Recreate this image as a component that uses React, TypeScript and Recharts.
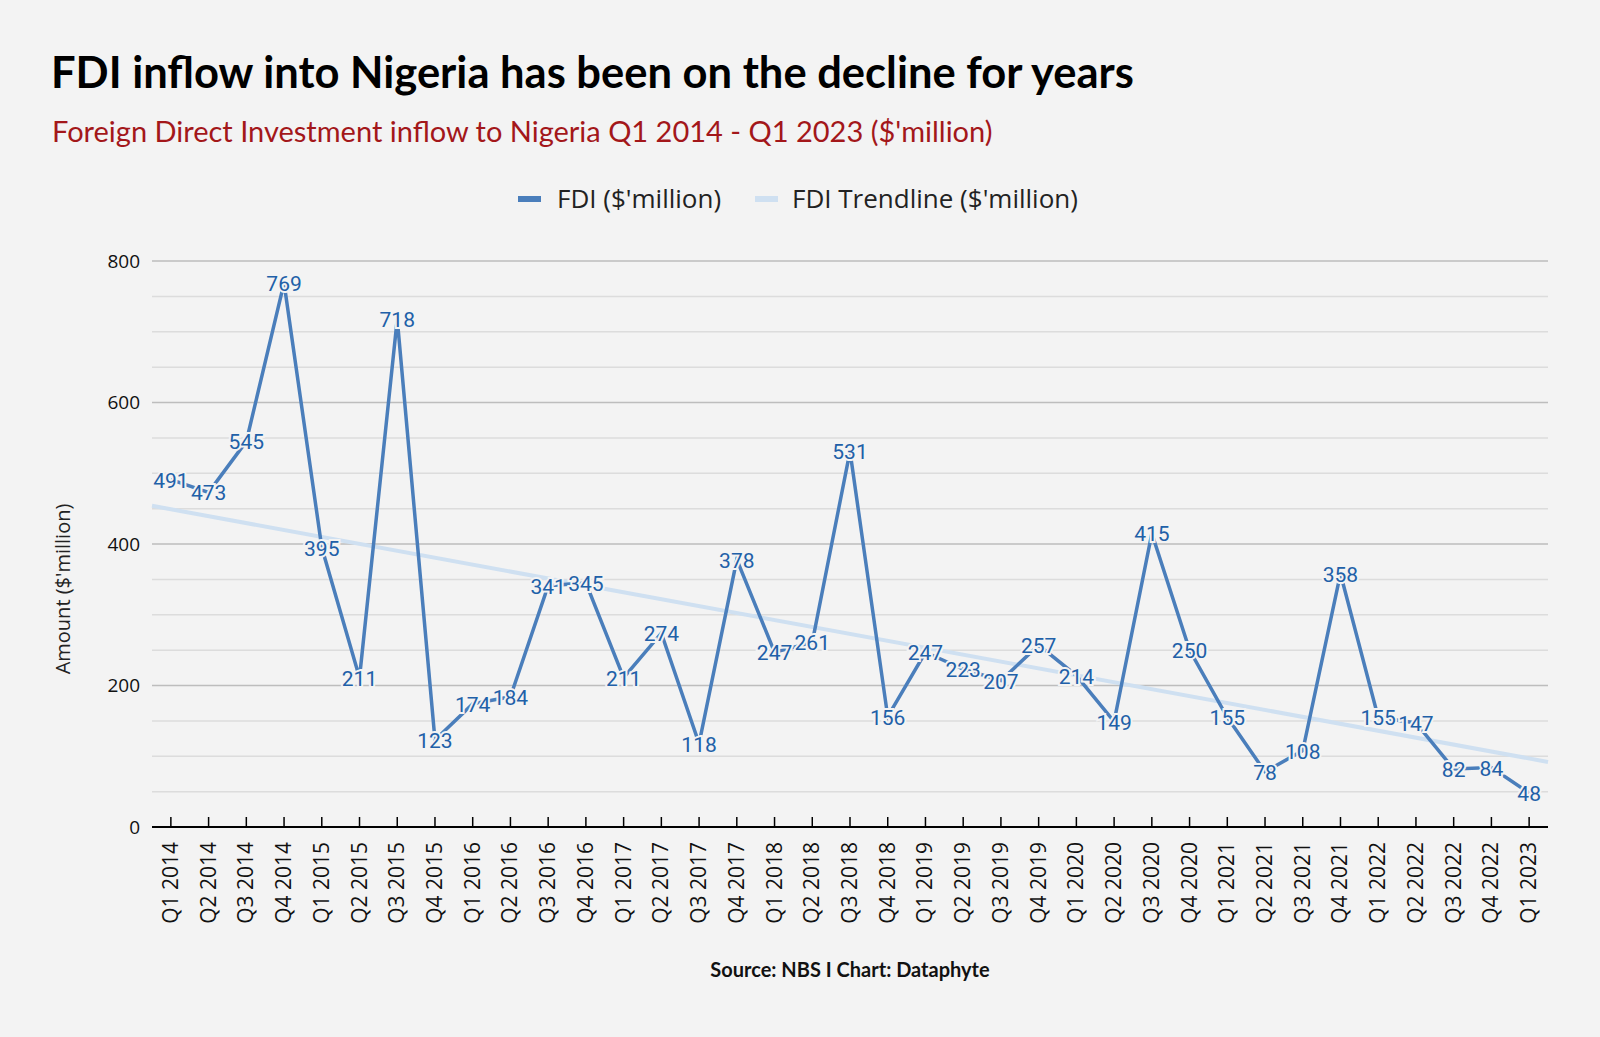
import React from 'react';
import { LineChart, Line, XAxis, YAxis, CartesianGrid } from 'recharts';

const quarters = [
  'Q1 2014', 'Q2 2014', 'Q3 2014', 'Q4 2014',
  'Q1 2015', 'Q2 2015', 'Q3 2015', 'Q4 2015',
  'Q1 2016', 'Q2 2016', 'Q3 2016', 'Q4 2016',
  'Q1 2017', 'Q2 2017', 'Q3 2017', 'Q4 2017',
  'Q1 2018', 'Q2 2018', 'Q3 2018', 'Q4 2018',
  'Q1 2019', 'Q2 2019', 'Q3 2019', 'Q4 2019',
  'Q1 2020', 'Q2 2020', 'Q3 2020', 'Q4 2020',
  'Q1 2021', 'Q2 2021', 'Q3 2021', 'Q4 2021',
  'Q1 2022', 'Q2 2022', 'Q3 2022', 'Q4 2022',
  'Q1 2023',
];

const fdiValues = [
  491, 473, 545, 769,
  395, 211, 718, 123,
  174, 184, 341, 345,
  211, 274, 118, 378,
  247, 261, 531, 156,
  247, 223, 207, 257,
  214, 149, 415, 250,
  155, 78, 108, 358,
  155, 147, 82, 84,
  48,
];

// trendline at the left and right edge of the plot
const trendStart = 454;
const trendEnd = 92;

const yTicks = [0, 50, 100, 150, 200, 250, 300, 350, 400, 450, 500, 550, 600, 650, 700, 750, 800];
const yLabelTicks = [0, 200, 400, 600, 800];

const data = quarters.map((q, i) => ({ i, q, fdi: fdiValues[i] }));
const trendData = [
  { i: -0.5, trend: trendStart },
  { i: quarters.length - 0.5, trend: trendEnd },
];
const xTicks = quarters.map((_, i) => i);

const BG = '#f3f3f3';
const LINE = '#4a7ebb';
const TREND = '#cfe0f1';

const XTick = (props: any) => {
  const { x, y, payload } = props;
  return (
    <g>
      <line x1={x} x2={x} y1={y - 10} y2={y} stroke="#000" strokeWidth={1.5} />
      <text
        transform={`translate(${x + 7},${y + 15}) rotate(-90)`}
        textAnchor="end"
        fontFamily="'Open Sans', sans-serif"
        fontSize={21}
        fill="#111"
      >
        {quarters[payload.value]}
      </text>
    </g>
  );
};

const GridLine = (props: any) => {
  const { x1, x2, y1, y2, index } = props;
  const major = index % 4 === 0;
  return (
    <line
      x1={x1}
      x2={x2}
      y1={y1}
      y2={y2}
      stroke={major ? '#bdbdbd' : '#dcdcdc'}
      strokeWidth={1.5}
    />
  );
};

const PointLabel = (props: any) => {
  const { x, y, value } = props;
  return (
    <text
      x={x}
      y={y}
      dy={8}
      textAnchor="middle"
      fontFamily="Roboto, sans-serif"
      fontSize={21}
      fill="#2160a8"
      stroke={BG}
      strokeWidth={4}
      paintOrder="stroke"
    >
      {value}
    </text>
  );
};

export default function App() {
  return (
    <div style={{ position: 'absolute', left: 0, top: 0, width: 1600, height: 1037, background: BG }}>
      <LineChart
        width={1600}
        height={1037}
        data={data}
        margin={{ top: 261, right: 52, bottom: 110, left: 102 }}
      >
        <CartesianGrid vertical={false} horizontal={GridLine} />
        <XAxis
          dataKey="i"
          type="number"
          domain={[-0.5, quarters.length - 0.5]}
          ticks={xTicks}
          interval={0}
          height={100}
          tickSize={0}
          tickMargin={0}
          tickLine={false}
          axisLine={{ stroke: '#000', strokeWidth: 2 }}
          tick={XTick}
        />
        <YAxis
          domain={[0, 800]}
          ticks={yTicks}
          interval={0}
          width={50}
          tickSize={0}
          tickMargin={12}
          tickLine={false}
          axisLine={false}
          tickFormatter={(v: number) => (yLabelTicks.includes(v) ? String(v) : '')}
          tick={{ fontFamily: "'Open Sans', sans-serif", fontSize: 19, fill: '#111' }}
        />
        <Line
          data={trendData}
          dataKey="trend"
          type="linear"
          stroke={TREND}
          strokeWidth={4}
          dot={false}
          isAnimationActive={false}
        />
        <Line
          dataKey="fdi"
          type="linear"
          stroke={LINE}
          strokeWidth={3.5}
          dot={false}
          label={PointLabel}
          isAnimationActive={false}
        />
      </LineChart>
      <svg width={1600} height={1037} style={{ position: 'absolute', left: 0, top: 0, pointerEvents: 'none' }}>
        <text x={51} y={88} fontFamily="Lato, sans-serif" fontWeight="bold" fontSize={43.5} fill="#000">
          FDI inflow into Nigeria has been on the decline for years
        </text>
        <text x={52} y={142} fontFamily="Lato, sans-serif" fontSize={29} fill="#a3171a">
          Foreign Direct Investment inflow to Nigeria Q1 2014 - Q1 2023 ($'million)
        </text>
        <rect x={518} y={196} width={23} height={6} fill={LINE} />
        <text x={557} y={208} fontFamily="'Open Sans', sans-serif" fontSize={26} fill="#222">
          FDI ($'million)
        </text>
        <rect x={755} y={196} width={23} height={6} fill={TREND} />
        <text x={792} y={208} fontFamily="'Open Sans', sans-serif" fontSize={26} fill="#222">
          FDI Trendline ($'million)
        </text>
        <text
          transform="translate(70,589) rotate(-90)"
          textAnchor="middle"
          fontFamily="'Open Sans', sans-serif"
          fontSize={20}
          fill="#222"
        >
          Amount ($'million)
        </text>
        <text x={850} y={977} textAnchor="middle" fontFamily="Lato, sans-serif" fontWeight="bold" fontSize={20} fill="#111">
          Source: NBS I Chart: Dataphyte
        </text>
      </svg>
    </div>
  );
}
